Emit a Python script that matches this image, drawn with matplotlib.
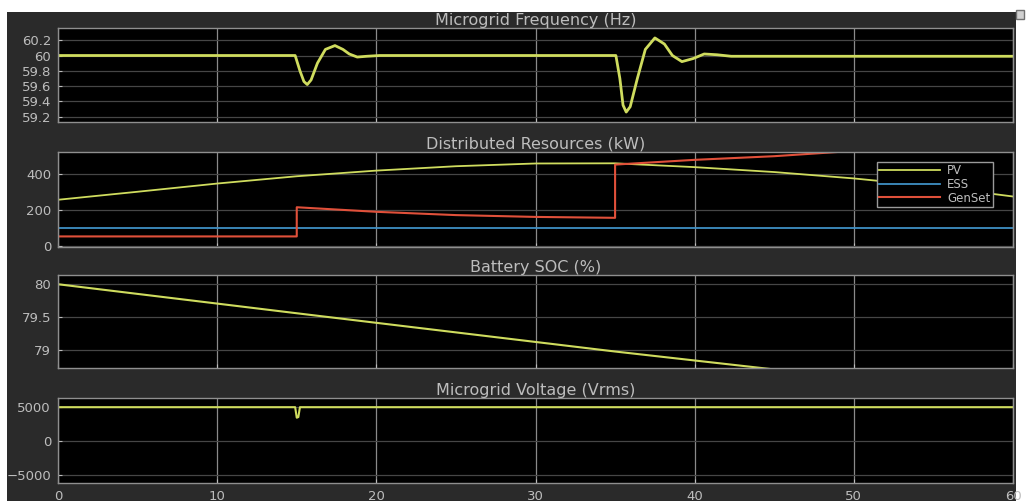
import numpy as np
import matplotlib as mpl
mpl.use("Agg")
import matplotlib.pyplot as plt
from matplotlib.patches import Rectangle

# time axis (s)
x_ticks = [0, 10, 20, 30, 40, 50, 60]

# microgrid frequency (Hz)
freq_t = [0, 14.9, 15.2, 15.45, 15.66, 15.9, 16.3, 16.8, 17.4, 17.9, 18.3, 18.8, 19.4, 20.2,
          35.05, 35.3, 35.5, 35.7, 35.95, 36.4, 36.9, 37.5, 38.1, 38.6, 39.2, 39.9, 40.6,
          41.4, 42.3, 60]
freq_hz = [60.0, 60.0, 59.8, 59.66, 59.62, 59.68, 59.9, 60.08, 60.13, 60.08, 60.02, 59.98, 59.99, 60.0,
           60.0, 59.7, 59.35, 59.26, 59.33, 59.7, 60.08, 60.23, 60.15, 60.0, 59.92, 59.96, 60.02,
           60.01, 59.99, 59.99]
freq_ticks = [59.2, 59.4, 59.6, 59.8, 60, 60.2]
freq_labels = ["59.2", "59.4", "59.6", "59.8", "60", "60.2"]

# distributed resources (kW)
pv_t = [0, 5, 10, 15, 20, 25, 30, 35, 40, 45, 50, 55, 60]
pv_kw = [256, 300, 345, 385, 416, 440, 455, 456, 435, 408, 373, 330, 274]
ess_t = [0, 60]
ess_kw = [100, 100]
gen_t = [0, 15, 15, 20, 25, 30, 35, 35, 40, 45, 50, 55, 60]
gen_kw = [55, 55, 215, 190, 172, 162, 157, 449, 475, 495, 524, 565, 620]
pow_ticks = [0, 200, 400]

# battery state of charge (%)
soc_t = [0, 15, 35, 60]
soc_pct = [80.0, 79.56, 78.98, 78.30]
soc_ticks = [79, 79.5, 80]
soc_labels = ["79", "79.5", "80"]

# microgrid voltage (Vrms)
volt_t = [0, 14.9, 15.0, 15.1, 15.2, 60]
volt_v = [4950, 4950, 3400, 3500, 4950, 4950]
volt_ticks = [-5000, 0, 5000]

trace = "#cfdc5e"
txt = "#bdbdbd"

fig = plt.figure(figsize=(10.26, 5.01), dpi=100, facecolor="white")
W, H = 1026.0, 501.0
fig.patches.append(Rectangle((7 / W, 0), 1009 / W, 489 / H, transform=fig.transFigure,
                             facecolor="#2a2a2a", edgecolor="none", zorder=-10))
# little window icon at the top right corner
fig.patches.append(Rectangle((1016 / W, 1 - 19 / H), 8 / W, 9 / H, transform=fig.transFigure,
                             facecolor="#d0d0d0", edgecolor="#707070", lw=1.0, zorder=-5))

boxes = [(28, 122), (152, 247), (275, 368), (398, 483)]
titles = ["Microgrid Frequency (Hz)", "Distributed Resources (kW)",
          "Battery SOC (%)", "Microgrid Voltage (Vrms)"]
axes = []
for (top, bot), title in zip(boxes, titles):
    ax = fig.add_axes([58 / W, 1 - bot / H, 955 / W, (bot - top) / H])
    ax.set_facecolor("black")
    ax.set_xlim(0, 60)
    ax.set_xticks(x_ticks)
    for s in ax.spines.values():
        s.set_color("#8f8f8f")
        s.set_linewidth(1.0)
    ax.tick_params(colors=txt, labelsize=9.5, length=3, direction="in", pad=5)
    ax.xaxis.grid(True, color="#8a8a8a", lw=0.9)
    ax.yaxis.grid(True, color="#464646", lw=0.9)
    ax.set_axisbelow(True)
    ax.set_title(title, color=txt, fontsize=11.5, pad=2)
    axes.append(ax)

ax1, ax2, ax3, ax4 = axes

ax1.plot(freq_t, freq_hz, color=trace, lw=2.0)
ax1.set_ylim(59.13, 60.36)
ax1.set_yticks(freq_ticks)
ax1.set_yticklabels(freq_labels)

ax2.plot(pv_t, pv_kw, color=trace, lw=1.3, label="PV")
ax2.plot(ess_t, ess_kw, color="#3f8fc4", lw=1.3, label="ESS")
ax2.plot(gen_t, gen_kw, color="#e0503a", lw=1.5, label="GenSet")
ax2.set_ylim(-3, 518)
ax2.set_yticks(pow_ticks)
leg = ax2.legend(loc="upper right", bbox_to_anchor=(0.979, 0.895), fontsize=8.5,
                 frameon=True, fancybox=False, labelcolor=txt, handlelength=5.2,
                 borderpad=0.2, labelspacing=0.05, handletextpad=0.6, borderaxespad=0)
leg.get_frame().set_facecolor("black")
leg.get_frame().set_edgecolor("#9a9a9a")
leg.get_frame().set_alpha(1)

ax3.plot(soc_t, soc_pct, color=trace, lw=1.5)
ax3.set_ylim(78.73, 80.14)
ax3.set_yticks(soc_ticks)
ax3.set_yticklabels(soc_labels)

ax4.plot(volt_t, volt_v, color=trace, lw=1.5)
ax4.set_ylim(-6200, 6300)
ax4.set_yticks(volt_ticks)

for ax in (ax1, ax2, ax3):
    ax.tick_params(labelbottom=False)

fig.savefig("out.png", dpi=100, facecolor=fig.get_facecolor())
